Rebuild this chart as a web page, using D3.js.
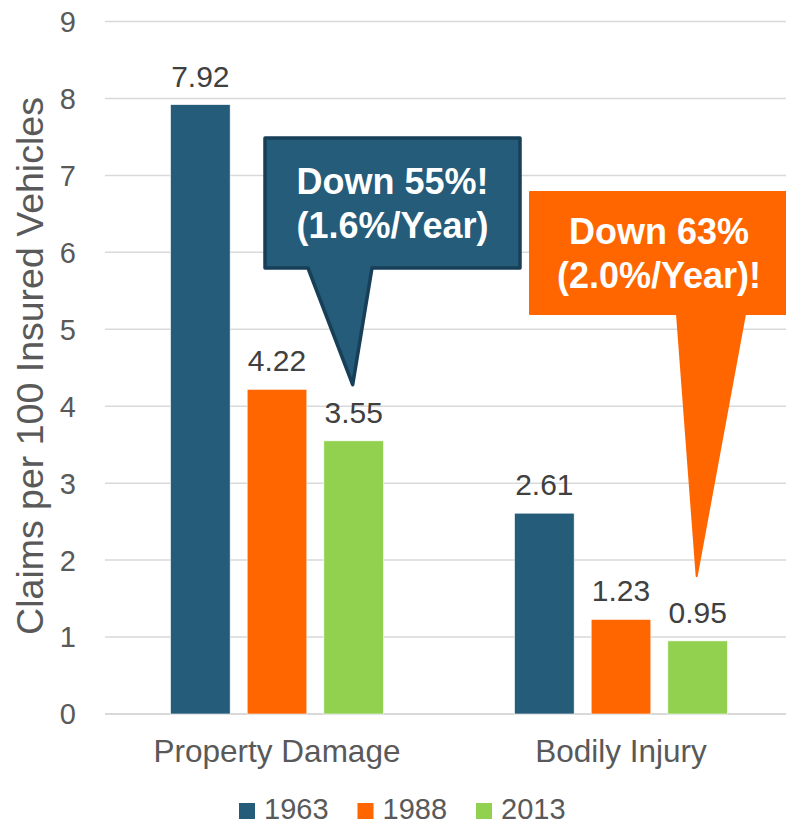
<!DOCTYPE html>
<html>
<head>
<meta charset="utf-8">
<script src="https://cdn.jsdelivr.net/npm/d3@7/dist/d3.min.js"></script>
<style>
  html, body { margin: 0; padding: 0; background: #fff; }
  svg { display: block; font-family: "Liberation Sans", Arial, sans-serif; }
</style>
</head>
<body>
<svg id="chart" width="786" height="825"></svg>
<script>
// ---- data ----
const categories = ["Property Damage", "Bodily Injury"];
const years = ["1963", "1988", "2013"];
const values1963 = [7.92, 2.61];
const values1988 = [4.22, 1.23];
const values2013 = [3.55, 0.95];
const yTicks = [0, 1, 2, 3, 4, 5, 6, 7, 8, 9];
const colors = ["#245C7A", "#FF6600", "#92D050"];
const yTitle = "Claims per 100 Insured Vehicles";
const calloutLines = [["Down 55%!", "(1.6%/Year)"], ["Down 63%", "(2.0%/Year)!"]];
const calloutTargets = [4.28, 1.79];   // value the pointer tip reaches (on the 2013 bar)

const series = [values1963, values1988, values2013];

const svg = d3.select("#chart");
const W = 786, H = 825;

const y = d3.scaleLinear().domain([0, 9]).range([714, 21.5]);
const x0 = d3.scaleBand().domain(categories).range([105, 793]).padding(0);
const x1 = d3.scaleBand().domain(years).range([65.5, 278.5]).paddingInner(0.222).paddingOuter(0);

// gridlines
svg.append("g").selectAll("line").data(yTicks).join("line")
  .attr("x1", 105).attr("x2", W)
  .attr("y1", d => y(d)).attr("y2", d => y(d))
  .attr("stroke", "#d9d9d9").attr("stroke-width", d => d === 0 ? 2 : 1.5);

// y tick labels
svg.append("g").selectAll("text").data(yTicks).join("text")
  .attr("x", 76).attr("y", d => y(d))
  .attr("dy", "0.36em")
  .attr("text-anchor", "end")
  .attr("font-size", 29)
  .attr("fill", "#595959")
  .text(d => d);

// y title
svg.append("text")
  .attr("transform", `translate(43,${366}) rotate(-90)`)
  .attr("text-anchor", "middle")
  .attr("font-size", 37.5)
  .attr("fill", "#595959")
  .text(yTitle);

// bars
const barData = [];
categories.forEach((c, ci) => {
  years.forEach((yr, si) => {
    barData.push({ cat: c, year: yr, si, value: series[si][ci] });
  });
});

svg.append("g").selectAll("rect").data(barData).join("rect")
  .attr("x", d => x0(d.cat) + x1(d.year))
  .attr("y", d => y(d.value))
  .attr("width", x1.bandwidth())
  .attr("height", d => y(0) - y(d.value))
  .attr("fill", d => colors[d.si])
  .attr("stroke", "#ffffff").attr("stroke-width", 0.6);

// value labels
svg.append("g").selectAll("text").data(barData).join("text")
  .attr("x", d => x0(d.cat) + x1(d.year) + x1.bandwidth() / 2)
  .attr("y", d => y(d.value) - 18)
  .attr("text-anchor", "middle")
  .attr("font-size", 30)
  .attr("fill", "#404040")
  .text(d => d.value.toFixed(2));

// category labels
svg.append("g").selectAll("text").data(categories).join("text")
  .attr("x", d => x0(d) + x0.bandwidth() / 2)
  .attr("y", 762)
  .attr("text-anchor", "middle")
  .attr("font-size", 31.5)
  .attr("fill", "#595959")
  .text(d => d);

// legend
const leg = svg.append("g").selectAll("g").data(years).join("g")
  .attr("transform", (d, i) => `translate(${239 + i * 118.5},0)`);
leg.append("rect").attr("x", 0).attr("y", 803).attr("width", 16).attr("height", 16)
  .attr("fill", (d, i) => colors[i]);
leg.append("text").attr("x", 25).attr("y", 819)
  .attr("font-size", 29).attr("fill", "#595959").text(d => d);

// callouts
function calloutPath(r, bx0, bx1, tx, ty) {
  return `M${r.x0},${r.y0}H${r.x1}V${r.y1}H${bx1}L${tx},${ty}L${bx0},${r.y1}H${r.x0}Z`;
}
const tip2013 = ci => x0(categories[ci]) + x1("2013") + x1.bandwidth() / 2 - 1;

// blue callout
(function () {
  const r = { x0: 265, y0: 138, x1: 520, y1: 268 };
  svg.append("path")
    .attr("d", calloutPath(r, 308, 372, tip2013(0), y(calloutTargets[0])))
    .attr("fill", colors[0]).attr("stroke", "#173F58").attr("stroke-width", 3.5)
    .attr("stroke-linejoin", "round");
  const cx = (r.x0 + r.x1) / 2;
  svg.append("g").selectAll("text").data(calloutLines[0]).join("text")
    .attr("x", cx).attr("y", (d, i) => 194 + i * 44)
    .attr("text-anchor", "middle").attr("font-size", 36).attr("font-weight", "bold")
    .attr("fill", "#fff").text(d => d);
})();

// orange callout
(function () {
  const r = { x0: 530, y0: 192, x1: 790, y1: 314 };
  svg.append("path")
    .attr("d", calloutPath(r, 677, 745, tip2013(1), y(calloutTargets[1])))
    .attr("fill", colors[1]).attr("stroke", colors[1]).attr("stroke-width", 2)
    .attr("stroke-linejoin", "round");
  const cx = 659;
  svg.append("g").selectAll("text").data(calloutLines[1]).join("text")
    .attr("x", cx).attr("y", (d, i) => 244 + i * 44)
    .attr("text-anchor", "middle").attr("font-size", 36).attr("font-weight", "bold")
    .attr("fill", "#fff").text(d => d);
})();
</script>
</body>
</html>
